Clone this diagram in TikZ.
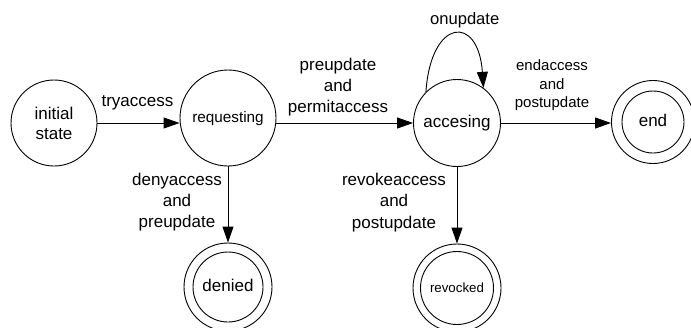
\documentclass[tikz,border=0pt]{standalone}
\usepackage{fontspec}
\setmainfont{Liberation Sans}
\usetikzlibrary{arrows.meta}
\begin{document}
\begin{tikzpicture}[x=1pt,y=-1pt,
  circ/.style={circle,draw,line width=0.9pt,inner sep=0pt},
  state/.style={circ,text height=12.4pt,text depth=3.6pt,font=\fontsize{17}{20}\selectfont},
  lbl/.style={align=center,inner sep=0pt,font=\fontsize{17}{21}\selectfont},
  trans/.style={line width=0.9pt,-{Triangle[length=16pt,width=11pt]}}]
\useasboundingbox (0,0) rectangle (691,327);

% states
\node[circ,minimum size=86pt,align=center,font=\fontsize{17}{20}\selectfont] (init) at (54,123) {initial\\state};
\node[state,minimum size=96pt,font=\fontsize{15.3}{18}\selectfont] (req) at (228,118) {requesting};
\node[state,minimum size=87pt] (acc) at (457,123) {accesing};
\node[state,minimum size=83pt] (end) at (653,122) {end};
\node[circ,minimum size=62pt] (end-in) at (end) {};
\node[state,minimum size=88pt] (den) at (228,287) {denied};
\node[circ,minimum size=70pt] (den-in) at (den) {};
\node[state,minimum size=88pt,font=\fontsize{13.3}{16}\selectfont] (rev) at (457,288) {revocked};
\node[circ,minimum size=73pt] (rev-in) at (rev) {};

% transitions
\draw[trans] (init.east) -- (init.east -| req.west);
\draw[trans] (acc.west -| req.east) -- (acc.west);
\draw[trans] (acc.east) -- (acc.east -| end.west);
\draw[trans] (req.south) -- (den.north);
\draw[trans] (acc.south) -- (rev.north);
\draw[trans] (acc.135) .. controls +(5,-74) and +(-5,-74) .. (acc.53);

% transition labels
\node[lbl,anchor=base] (l-try) at (137.5,106) {tryaccess};
\node[lbl] (l-perm) at (338,86.7) {preupdate\\and\\permitaccess};
\node[lbl,anchor=base,font=\fontsize{16.6}{20}\selectfont] (l-on) at (464.7,24) {onupdate};
\node[lbl,font=\fontsize{15}{18.5}\selectfont] (l-end) at (552,85.6) {endaccess\\and\\postupdate};
\node[lbl] (l-deny) at (177,202) {denyaccess\\and\\preupdate};
\node[lbl,font=\fontsize{17}{21.6}\selectfont] (l-rev) at (394,202.5) {revokeaccess\\and\\postupdate};
\end{tikzpicture}
\end{document}
